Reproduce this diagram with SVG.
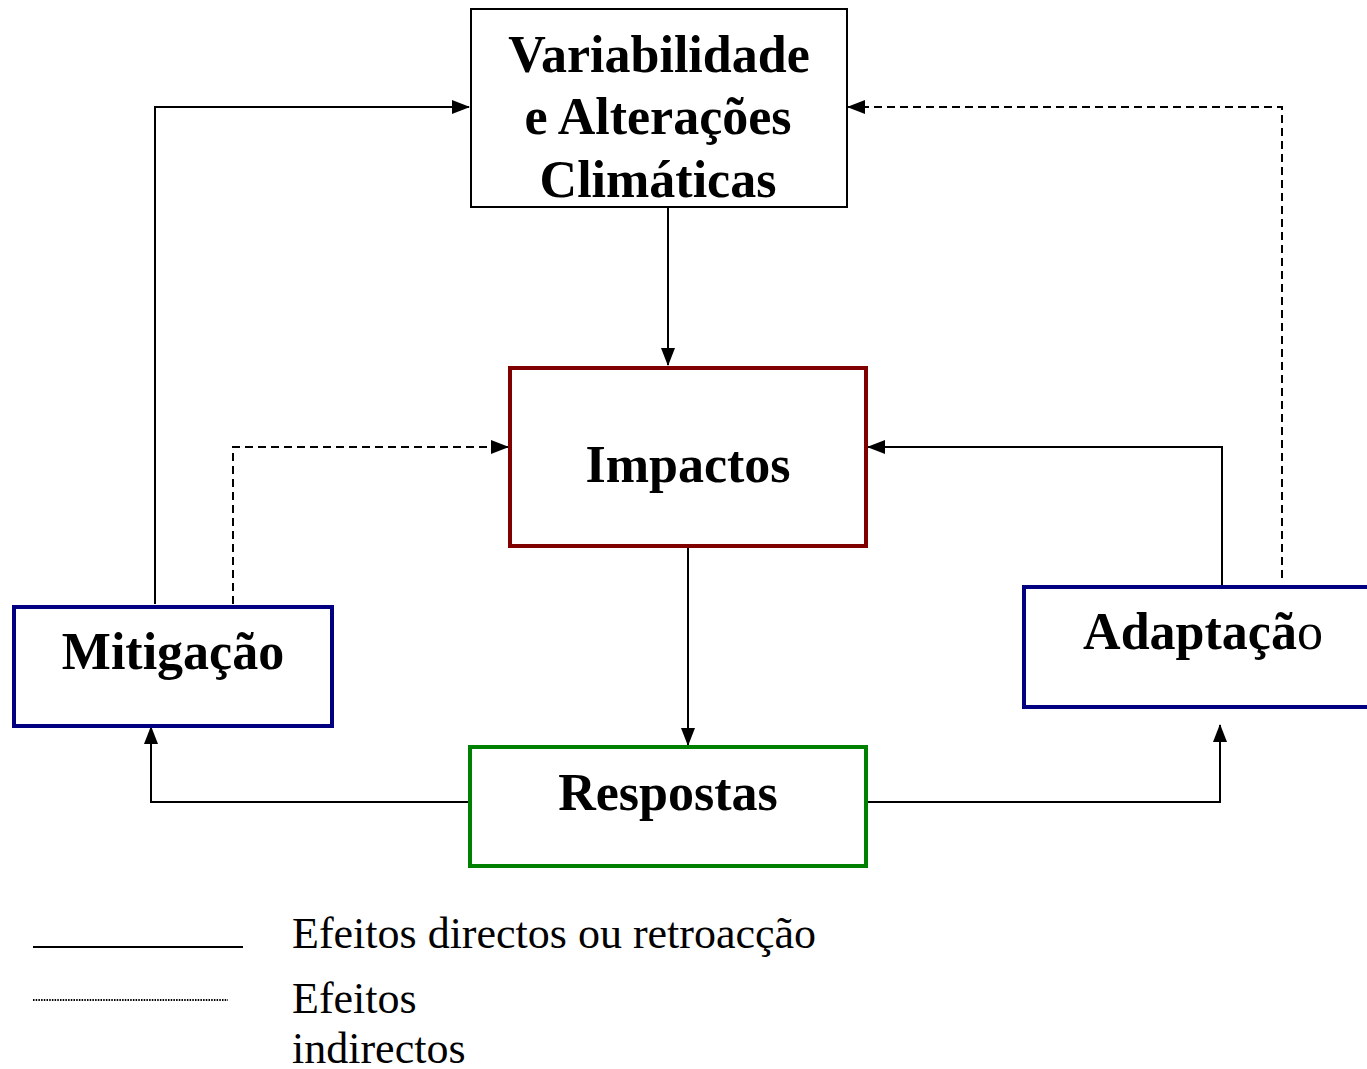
<svg xmlns="http://www.w3.org/2000/svg" width="1367" height="1069" viewBox="0 0 1367 1069">
<defs>
<marker id="ah" markerUnits="userSpaceOnUse" markerWidth="18" markerHeight="14" viewBox="0 0 18 14" refX="17" refY="7" orient="auto">
<path d="M0,0 L18,7 L0,14 Z" fill="#000"/>
</marker>
<style>
.lbl{font-family:"Liberation Serif","Times New Roman",serif;font-weight:bold;font-size:52px;fill:#000;text-anchor:middle}
.leg{font-family:"Liberation Serif","Times New Roman",serif;font-size:44px;fill:#000}
.c{fill:none;stroke:#000;stroke-width:2}
.d{stroke-dasharray:8,5}
</style>
</defs>
<rect width="1367" height="1069" fill="#fff"/>
<g id="connectors">
<polyline class="c" points="155,604 155,107 469,107" marker-end="url(#ah)"/>
<polyline class="c d" points="233,604 233,447 508,447" marker-end="url(#ah)"/>
<polyline class="c" points="668,207 668,365" marker-end="url(#ah)"/>
<polyline class="c" points="688,547 688,745" marker-end="url(#ah)"/>
<polyline class="c" points="1222,585 1222,447 868,447" marker-end="url(#ah)"/>
<polyline class="c d" points="1282,578 1282,107 848,107" marker-end="url(#ah)"/>
<polyline class="c" points="470,802 151,802 151,727" marker-end="url(#ah)"/>
<polyline class="c" points="866,802 1220,802 1220,725" marker-end="url(#ah)"/>
</g>
<g id="node-variabilidade">
<rect x="471" y="9" width="376" height="198" fill="#fff" stroke="#000" stroke-width="2"/>
<text class="lbl" x="659" y="72">Variabilidade</text>
<text class="lbl" x="658" y="134">e Alterações</text>
<text class="lbl" x="658" y="197">Climáticas</text>
</g>
<g id="node-impactos">
<rect x="510" y="368" width="356" height="178" fill="#fff" stroke="#800000" stroke-width="4"/>
<text class="lbl" x="688" y="482">Impactos</text>
</g>
<g id="node-mitigacao">
<rect x="14" y="607" width="318" height="119" fill="#fff" stroke="#000080" stroke-width="4"/>
<text class="lbl" x="173" y="669">Mitigação</text>
</g>
<g id="node-adaptacao">
<rect x="1024" y="587" width="360" height="120" fill="#fff" stroke="#000080" stroke-width="4"/>
<text class="lbl" x="1203" y="649">Adaptaçã<tspan font-weight="normal">o</tspan></text>
</g>
<g id="node-respostas">
<rect x="470" y="747" width="396" height="119" fill="#fff" stroke="#008000" stroke-width="4"/>
<text class="lbl" x="668" y="810">Respostas</text>
</g>
<g id="legend">
<line x1="33" y1="947" x2="243" y2="947" stroke="#000" stroke-width="2"/>
<line x1="33" y1="1000" x2="228" y2="1000" stroke="#000" stroke-width="2" stroke-dasharray="1.5,1.2"/>
<text class="leg" x="292" y="948">Efeitos directos ou retroacção</text>
<text class="leg" x="292" y="1013">Efeitos</text>
<text class="leg" x="292" y="1063">indirectos</text>
</g>
</svg>
